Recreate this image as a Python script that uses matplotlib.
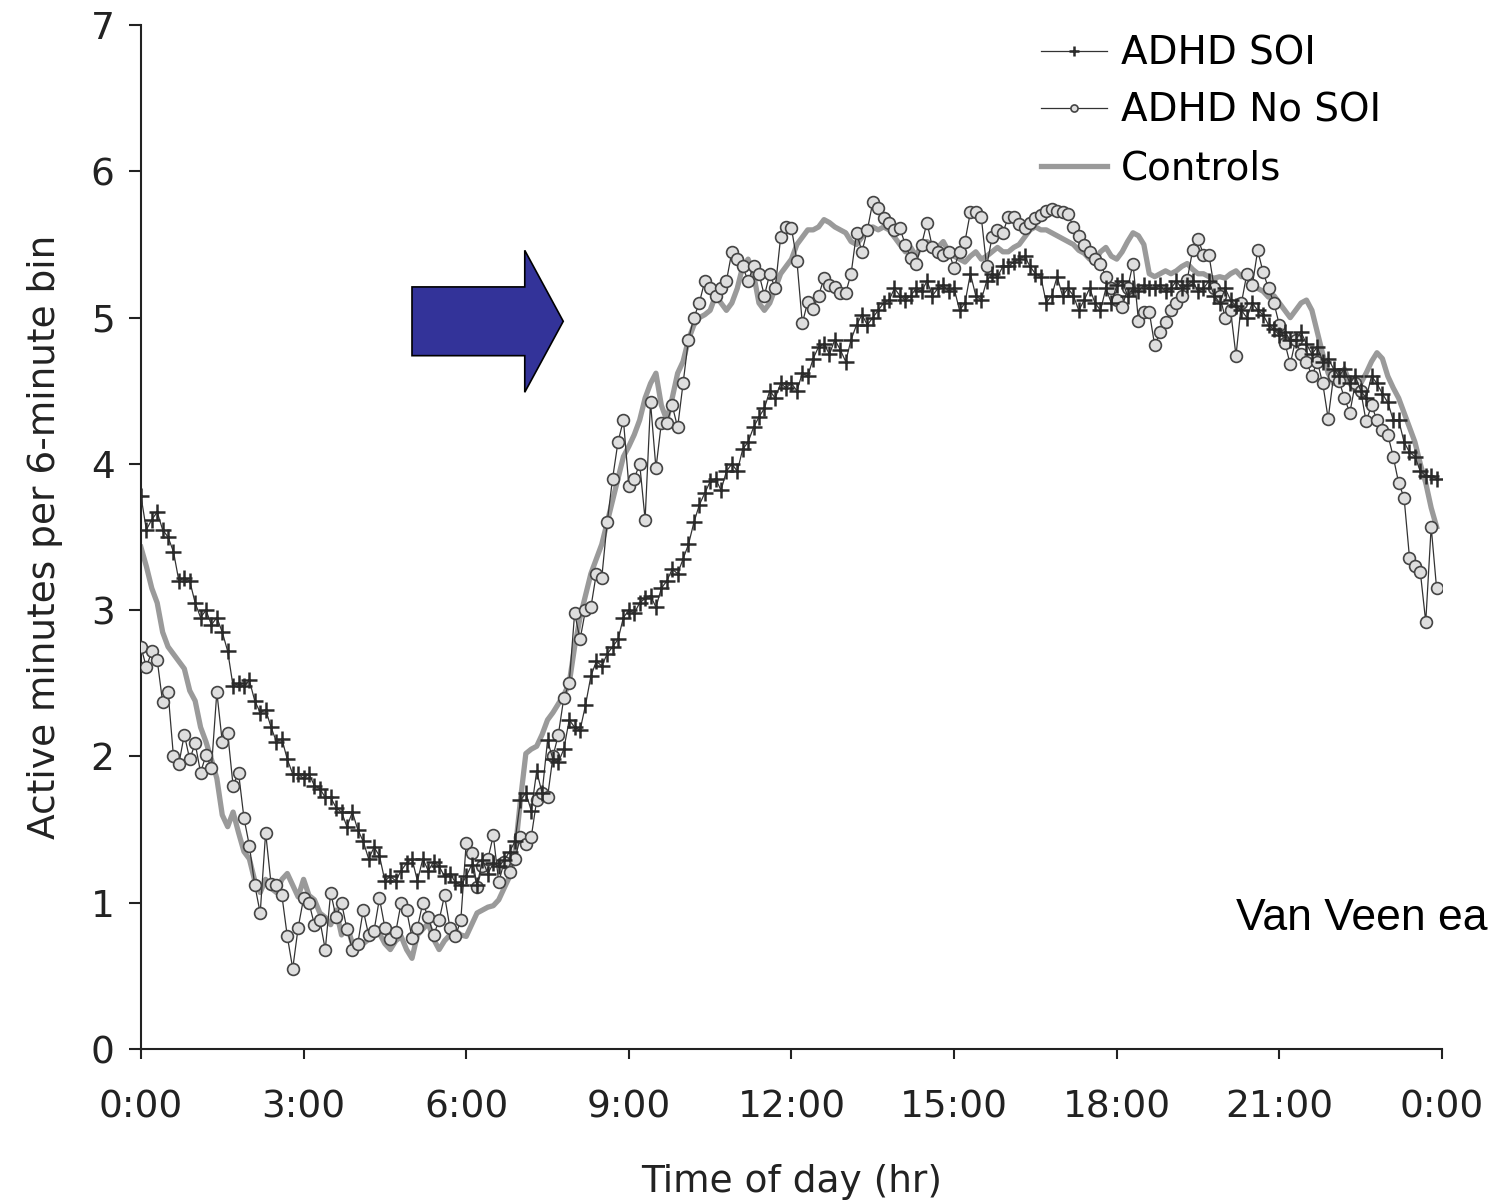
import numpy as np
import matplotlib
matplotlib.use("Agg")
import matplotlib.pyplot as plt
from matplotlib.patches import FancyArrow

# 6-minute bins over 24 h
adhd_soi = [
    3.78, 3.55, 3.62, 3.67, 3.55, 3.50, 3.40, 3.20, 3.22, 3.20,
    3.05, 2.95, 3.00, 2.90, 2.95, 2.85, 2.72, 2.48, 2.50, 2.48,
    2.52, 2.38, 2.30, 2.32, 2.20, 2.10, 2.12, 1.98, 1.88, 1.88,
    1.85, 1.88, 1.80, 1.78, 1.72, 1.72, 1.65, 1.62, 1.52, 1.62,
    1.50, 1.42, 1.30, 1.38, 1.32, 1.15, 1.18, 1.15, 1.22, 1.27,
    1.30, 1.15, 1.30, 1.22, 1.28, 1.25, 1.18, 1.20, 1.14, 1.12,
    1.18, 1.26, 1.12, 1.29, 1.20, 1.27, 1.25, 1.29, 1.35, 1.42,
    1.70, 1.75, 1.63, 1.90, 1.75, 2.11, 1.98, 1.96, 2.05, 2.25,
    2.20, 2.18, 2.35, 2.55, 2.65, 2.62, 2.70, 2.75, 2.80, 2.95,
    3.00, 2.98, 3.05, 3.08, 3.10, 3.02, 3.15, 3.20, 3.28, 3.25,
    3.35, 3.45, 3.60, 3.72, 3.80, 3.88, 3.90, 3.82, 3.95, 4.00,
    3.95, 4.10, 4.15, 4.25, 4.32, 4.38, 4.50, 4.45, 4.55, 4.52,
    4.55, 4.50, 4.62, 4.60, 4.72, 4.80, 4.82, 4.75, 4.85, 4.78,
    4.70, 4.85, 4.95, 5.02, 4.95, 5.00, 5.05, 5.10, 5.12, 5.20,
    5.15, 5.12, 5.15, 5.20, 5.18, 5.25, 5.15, 5.20, 5.22, 5.18,
    5.20, 5.05, 5.10, 5.30, 5.15, 5.12, 5.25, 5.30, 5.28, 5.35,
    5.35, 5.38, 5.40, 5.42, 5.35, 5.30, 5.28, 5.10, 5.15, 5.28,
    5.15, 5.20, 5.15, 5.05, 5.12, 5.20, 5.10, 5.05, 5.20, 5.10,
    5.22, 5.25, 5.15, 5.20, 5.18, 5.22, 5.20, 5.20, 5.22, 5.18,
    5.20, 5.25, 5.20, 5.22, 5.25, 5.18, 5.20, 5.25, 5.15, 5.10,
    5.20, 5.12, 5.08, 5.05, 5.00, 5.10, 5.05, 5.02, 4.95, 4.92,
    4.88, 4.90, 4.85, 4.85, 4.90, 4.82, 4.75, 4.80, 4.70, 4.72,
    4.65, 4.60, 4.65, 4.55, 4.60, 4.50, 4.45, 4.60, 4.55, 4.48,
    4.42, 4.30, 4.30, 4.15, 4.08, 4.05, 3.95, 3.92, 3.92, 3.90,
]

adhd_no_soi = [
    2.75, 2.61, 2.72, 2.66, 2.37, 2.44, 2.00, 1.95, 2.15, 1.98,
    2.09, 1.89, 2.01, 1.92, 2.44, 2.10, 2.16, 1.80, 1.89, 1.58,
    1.39, 1.12, 0.93, 1.48, 1.13, 1.12, 1.05, 0.77, 0.55, 0.83,
    1.03, 1.00, 0.85, 0.88, 0.68, 1.07, 0.90, 1.00, 0.82, 0.68,
    0.72, 0.95, 0.78, 0.81, 1.03, 0.83, 0.75, 0.80, 1.00, 0.95,
    0.76, 0.83, 1.00, 0.90, 0.78, 0.88, 1.05, 0.83, 0.77, 0.88,
    1.41, 1.34, 1.11, 1.25, 1.30, 1.46, 1.14, 1.28, 1.21, 1.30,
    1.45, 1.40, 1.45, 1.70, 1.75, 1.72, 2.00, 2.15, 2.40, 2.50,
    2.98, 2.80, 3.00, 3.02, 3.25, 3.22, 3.60, 3.90, 4.15, 4.30,
    3.85, 3.90, 4.00, 3.62, 4.42, 3.97, 4.28, 4.28, 4.40, 4.25,
    4.55, 4.85, 5.00, 5.10, 5.25, 5.20, 5.15, 5.20, 5.25, 5.45,
    5.40, 5.35, 5.25, 5.35, 5.30, 5.15, 5.30, 5.20, 5.55, 5.62,
    5.61, 5.39, 4.96, 5.11, 5.06, 5.15, 5.27, 5.22, 5.21, 5.17,
    5.17, 5.30, 5.58, 5.45, 5.60, 5.79, 5.75, 5.68, 5.65, 5.60,
    5.61, 5.50, 5.41, 5.37, 5.50, 5.65, 5.48, 5.45, 5.43, 5.45,
    5.34, 5.45, 5.52, 5.72, 5.72, 5.69, 5.35, 5.55, 5.60, 5.58,
    5.69, 5.69, 5.64, 5.61, 5.65, 5.68, 5.70, 5.73, 5.74, 5.73,
    5.72, 5.71, 5.62, 5.56, 5.50, 5.45, 5.40, 5.37, 5.28, 5.20,
    5.12, 5.07, 5.20, 5.37, 4.98, 5.04, 5.04, 4.81, 4.90, 4.97,
    5.05, 5.10, 5.15, 5.26, 5.46, 5.54, 5.43, 5.43, 5.20, 5.15,
    5.00, 5.05, 4.74, 5.10, 5.30, 5.22, 5.46, 5.31, 5.20, 5.10,
    4.95, 4.83, 4.68, 4.85, 4.75, 4.70, 4.60, 4.70, 4.55, 4.31,
    4.60, 4.57, 4.45, 4.35, 4.55, 4.50, 4.29, 4.40, 4.30, 4.23,
    4.20, 4.05, 3.87, 3.77, 3.36, 3.30, 3.26, 2.92, 3.57, 3.15,
]

controls = [
    3.43, 3.30, 3.15, 3.05, 2.85, 2.75, 2.70, 2.65, 2.60, 2.45,
    2.38, 2.20, 2.10, 1.98, 1.85, 1.60, 1.52, 1.62, 1.48, 1.35,
    1.30, 1.15, 1.07, 1.16, 1.10, 1.07, 1.16, 1.20, 1.12, 1.04,
    1.16, 1.05, 1.02, 0.93, 0.90, 0.85, 0.95, 0.78, 0.85, 0.72,
    0.70, 0.72, 0.75, 0.80, 0.79, 0.72, 0.68, 0.74, 0.77, 0.68,
    0.62, 0.78, 0.82, 0.86, 0.75, 0.68, 0.74, 0.78, 0.81, 0.78,
    0.77, 0.85, 0.93, 0.95, 0.97, 0.98, 1.02, 1.10, 1.18, 1.34,
    1.70, 2.02, 2.05, 2.07, 2.15, 2.25, 2.30, 2.36, 2.42, 2.50,
    2.75, 2.95, 3.10, 3.25, 3.35, 3.45, 3.60, 3.75, 3.90, 4.05,
    4.12, 4.20, 4.30, 4.45, 4.55, 4.62, 4.40, 4.30, 4.45, 4.62,
    4.70, 4.85, 4.95, 5.00, 5.02, 5.05, 5.15, 5.10, 5.05, 5.10,
    5.20, 5.35, 5.40, 5.30, 5.10, 5.05, 5.10, 5.20, 5.30, 5.35,
    5.40, 5.50, 5.55, 5.60, 5.60, 5.62, 5.67, 5.65, 5.62, 5.60,
    5.58, 5.52, 5.50, 5.55, 5.60, 5.62, 5.60, 5.62, 5.60, 5.55,
    5.50, 5.45, 5.48, 5.42, 5.50, 5.52, 5.50, 5.48, 5.52, 5.45,
    5.42, 5.40, 5.38, 5.42, 5.45, 5.40, 5.42, 5.45, 5.48, 5.45,
    5.45, 5.48, 5.50, 5.55, 5.60, 5.62, 5.60, 5.60, 5.58, 5.56,
    5.54, 5.52, 5.50, 5.46, 5.44, 5.40, 5.39, 5.45, 5.48, 5.42,
    5.40, 5.45, 5.52, 5.58, 5.56, 5.50, 5.30, 5.28, 5.30, 5.32,
    5.30, 5.32, 5.35, 5.37, 5.33, 5.30, 5.30, 5.28, 5.27, 5.28,
    5.27, 5.30, 5.32, 5.28, 5.30, 5.25, 5.20, 5.18, 5.14, 5.15,
    5.10, 5.05, 5.00, 5.05, 5.10, 5.12, 5.05, 4.90, 4.75, 4.62,
    4.55, 4.60, 4.65, 4.55, 4.50, 4.55, 4.62, 4.70, 4.76, 4.72,
    4.60, 4.52, 4.45, 4.35, 4.25, 4.15, 4.00, 3.87, 3.70, 3.57,
]

hours = np.arange(len(controls)) * 0.1
tick_hours = [0, 3, 6, 9, 12, 15, 18, 21, 24]
tick_labels = ["0:00", "3:00", "6:00", "9:00", "12:00", "15:00", "18:00", "21:00", "0:00"]


def main():
    fig = plt.figure(figsize=(15.01, 12), dpi=100)
    ax = fig.add_axes([0.0939, 0.1258, 0.8668, 0.8533])

    ax.plot(hours, controls, color="#9a9a9a", lw=3.8, label="Controls", zorder=2)
    ax.plot(hours, adhd_no_soi, color="#333333", lw=0.9, marker="o", ms=8.5,
            mfc="#dedede", mec="#444444", mew=1.2, label="ADHD No SOI", zorder=3)
    ax.plot(hours, adhd_soi, color="#333333", lw=0.9, marker="+", ms=12,
            mew=1.8, mec="#2a2a2a", label="ADHD SOI", zorder=4)

    ax.set_xlim(0, 24)
    ax.set_ylim(0, 7)
    ax.set_xticks(tick_hours)
    ax.set_xticklabels(tick_labels)
    ax.set_yticks(range(0, 8))
    for s in ["top", "right"]:
        ax.spines[s].set_visible(False)
    for s in ["left", "bottom"]:
        ax.spines[s].set_linewidth(1.5)
        ax.spines[s].set_color("#222222")
    ax.tick_params(axis="y", direction="out", length=9, width=1.5, pad=10,
                   labelsize=27, colors="#222222")
    ax.tick_params(axis="x", direction="out", length=7, width=1.5, pad=22,
                   labelsize=27, colors="#222222")

    ax.set_xlabel("Time of day (hr)", fontsize=27, color="#222222", labelpad=28)
    ax.set_ylabel("Active minutes per 6-minute bin", fontsize=27, color="#222222", labelpad=20)

    handles, labels = ax.get_legend_handles_labels()
    order = [2, 1, 0]
    ax.legend([handles[i] for i in order], [labels[i] for i in order],
              loc="upper right", bbox_to_anchor=(0.98, 1.025), frameon=False,
              fontsize=28, handlelength=1.7, handletextpad=0.35, labelspacing=0.5,
              markerscale=0.6)

    # blue arrow pointing at the morning rise
    ax.add_patch(FancyArrow(5.0, 4.975, 2.79, 0, width=0.47, head_width=0.97,
                            head_length=0.71, length_includes_head=True,
                            facecolor="#333399", edgecolor="black", lw=1.2,
                            zorder=5))

    # citation, kept just inside the right edge
    fig.text(1236 / 1501, 1 - 930 / 1200, "Van Veen ea", fontsize=32,
             family="Liberation Sans", color="black")

    fig.savefig("out.png", dpi=100)


if __name__ == "__main__":
    main()
